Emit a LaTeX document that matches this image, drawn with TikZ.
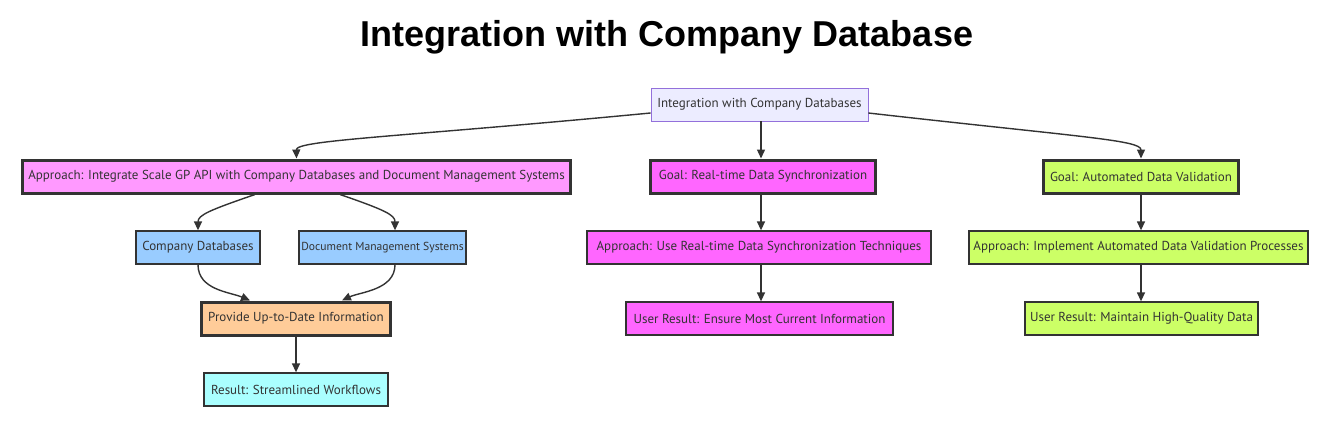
\documentclass[tikz,border=0pt]{standalone}
\usepackage{fontspec}
\setmainfont{PT Sans}
\newfontfamily\titlefont{Liberation Sans}
\usetikzlibrary{arrows.meta}
\definecolor{edge}{HTML}{333333}
\definecolor{lav}{HTML}{ECECFF}
\definecolor{lavb}{HTML}{9370DB}
\definecolor{pinkA}{HTML}{FF99FF}
\definecolor{magG}{HTML}{FF66FF}
\definecolor{limeG}{HTML}{CCFF66}
\definecolor{blueC}{HTML}{99CCFF}
\definecolor{peach}{HTML}{FFCC99}
\definecolor{cyanR}{HTML}{AAFFFF}
\tikzset{
  box/.style={draw=edge, line width=1.3pt, minimum height=33pt, inner sep=0pt, font=\fontsize{13}{15}\selectfont, text=edge},
  thickbox/.style={box, line width=3pt, minimum height=33pt},
  conn/.style={draw=edge, line width=1.4pt, -{Triangle[length=9pt,width=8pt]}},
}
\begin{document}
\begin{tikzpicture}[x=1pt,y=-1pt]
\useasboundingbox (0,0) rectangle (1330,423);
\node[font=\titlefont\bfseries\fontsize{36}{40}\selectfont] (title) at (667,37) {Integration with Company Database};
\node[box, draw=lavb, line width=0.8pt, fill=lav, minimum width=217pt] (top) at (759.5,104.5) {Integration with Company Databases};
\node[thickbox, fill=pinkA, minimum width=548pt] (appA) at (296.5,176.5) {Approach: Integrate Scale GP API with Company Databases and Document Management Systems};
\node[thickbox, fill=magG, minimum width=225pt] (goalRT) at (763,176.5) {Goal: Real-time Data Synchronization};
\node[thickbox, fill=limeG, minimum width=195pt] (goalAV) at (1141,176.5) {Goal: Automated Data Validation};
\node[box, fill=blueC, minimum width=124pt] (cdb) at (198,247.5) {Company Databases};
\node[box, fill=blueC, minimum width=167pt, font=\fontsize{11.6}{14}\selectfont] (dms) at (382.5,247.5) {Document Management Systems};
\node[thickbox, fill=peach, minimum width=189pt] (prov) at (296,318.5) {Provide Up-to-Date Information};
\node[box, fill=cyanR, minimum width=184pt] (res) at (296,389.5) {Result: Streamlined Workflows};
\node[box, fill=magG, minimum width=344pt] (appRT) at (759,247.5) {Approach: Use Real-time Data Synchronization Techniques};
\node[box, fill=magG, minimum width=267pt] (urRT) at (759.5,318.5) {User Result: Ensure Most Current Information};
\node[box, fill=limeG, minimum width=339pt] (appAV) at (1138.5,247.5) {Approach: Implement Automated Data Validation Processes};
\node[box, fill=limeG, minimum width=233pt] (urAV) at (1141.5,318.5) {User Result: Maintain High-Quality Data};

\draw[conn] (top.west |- 0,113) .. controls (400,137) and (296,140) .. (appA.north);
\draw[conn] (top.south -| 761,0) -- (goalRT.north -| 761,0);
\draw[conn] (top.east |- 0,113) .. controls (1080,137) and (1141,140) .. (goalAV.north);
\draw[conn] (appA.south -| 255,0) .. controls (210,210) and (198,215) .. (cdb.north);
\draw[conn] (appA.south -| 340,0) .. controls (385,210) and (395,215) .. (dms.north -| 395,0);
\draw[conn] (cdb.south) .. controls (198,290) and (230,292) .. (prov.north -| 250,0);
\draw[conn] (dms.south -| 395,0) .. controls (395,290) and (360,292) .. (prov.north -| 342,0);
\draw[conn] (prov) -- (res);
\draw[conn] (goalRT.south -| 761,0) -- (appRT.north -| 761,0);
\draw[conn] (appRT.south -| 761,0) -- (urRT.north -| 761,0);
\draw[conn] (goalAV.south -| 1141,0) -- (appAV.north -| 1141,0);
\draw[conn] (appAV.south -| 1141,0) -- (urAV.north -| 1141,0);
\end{tikzpicture}
\end{document}
